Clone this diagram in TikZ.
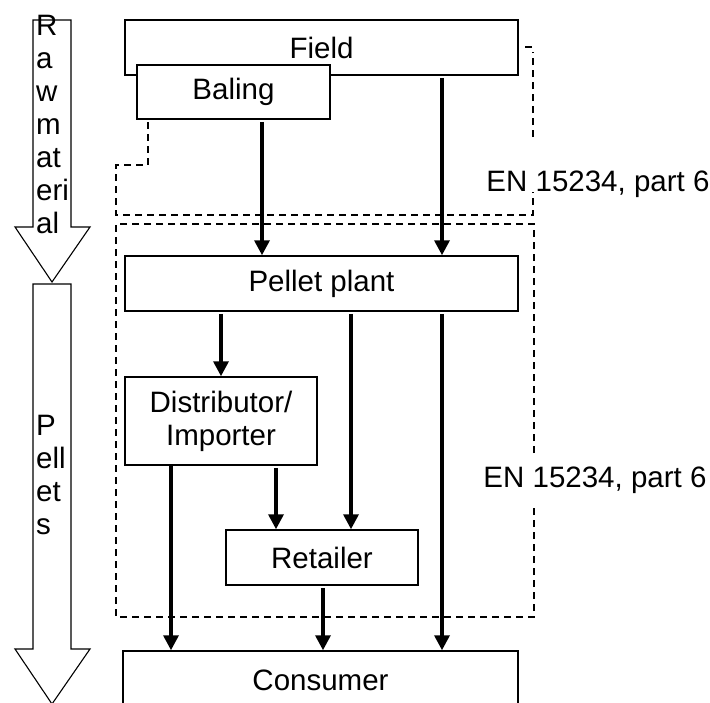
\documentclass[tikz,border=0pt]{standalone}
\usepackage{fontspec}
\setmainfont{Liberation Sans}
\usetikzlibrary{arrows.meta}
\begin{document}
\begin{tikzpicture}[x=1pt,y=-1pt,
  box/.style={draw=black, line width=1.5pt, fill=white, inner sep=0pt,
    font=\fontsize{29.5}{33}\selectfont, align=center},
  flow/.style={line width=3.4pt, -{Triangle[length=15pt,width=15pt]}, shorten <=2pt},
  zone/.style={draw=black, line width=1.3pt, dash pattern=on 7pt off 5pt},
  bigarrow/.style={draw=black, line width=1.1pt},
  lbl/.style={font=\fontsize{29.5}{33}\selectfont, inner sep=0pt},
  std/.style={font=\fontsize{29.5}{33}\selectfont, inner sep=0pt}]
\useasboundingbox (0,0) rectangle (710,702);
\fill[white] (0,0) rectangle (710,702);

% big side arrows
\draw[bigarrow] (33,20) -- (71,20) -- (71,227) -- (90,227) -- (52,282) -- (15,227) -- (33,227) -- cycle;
\draw[bigarrow] (33,284) -- (71,284) -- (71,649) -- (90,649) -- (52,704) -- (15,649) -- (33,649) -- cycle;
\foreach \t [count=\i] in {R,a,w,m,at,eri,al}
  \node[lbl, anchor=base west] (rm\i) at (36,{35+33*(\i-1)}) {\t};
\foreach \t [count=\i] in {P,ell,et,s}
  \node[lbl, anchor=base west] (pe\i) at (36,{435+33*(\i-1)}) {\t};

% boxes
\node[box, minimum width=393pt, minimum height=55pt] (field) at (321.5,47.5) {Field};
\node[box, minimum width=193pt, minimum height=54pt] (baling) at (233.5,92) {Baling};
\node[box, minimum width=393pt, minimum height=55pt] (pp) at (321.5,283.5) {Pellet plant};
\node[box, minimum width=192pt, minimum height=88pt] (dist) at (221,421) {Distributor/\\Importer};
\node[box, minimum width=192pt, minimum height=55pt] (ret) at (322,557.5) {Retailer};
\node[box, minimum width=395pt, minimum height=58pt] (cons) at (320.5,680) {Consumer};

% dashed zones
\draw[zone] (148,122) -- (148,165) -- (116,165) -- (116,215) -- (533,215) -- (533,192);
\draw[zone] (533,137) -- (533,52);
\draw[zone] (532,47) -- (523,47);
\draw[zone] (534,453) -- (534,224) -- (116,224) -- (116,617) -- (534,617) -- (534,508);
\node[std] (en1) at (598,184) {EN 15234, part 6};
\node[std] (en2) at (595,480) {EN 15234, part 6};

% x positions of connectors
\coordinate (xa) at (262,0);
\coordinate (xb) at (442,0);
\coordinate (xc) at (221,0);
\coordinate (xd) at (351,0);
\coordinate (xe) at (276,0);
\coordinate (xf) at (171,0);
\coordinate (xg) at (323,0);

\draw[flow] (baling.south -| xa) -- (pp.north -| xa);
\draw[flow] (field.south -| xb) -- (pp.north -| xb);
\draw[flow] (pp.south -| xc) -- (dist.north -| xc);
\draw[flow] (pp.south -| xd) -- (ret.north -| xd);
\draw[flow] (pp.south -| xb) -- (cons.north -| xb);
\draw[flow] (dist.south -| xe) -- (ret.north -| xe);
\draw[flow] ([yshift=2pt]dist.south -| xf) -- (cons.north -| xf);
\draw[flow] (ret.south -| xg) -- (cons.north -| xg);
\end{tikzpicture}
\end{document}
